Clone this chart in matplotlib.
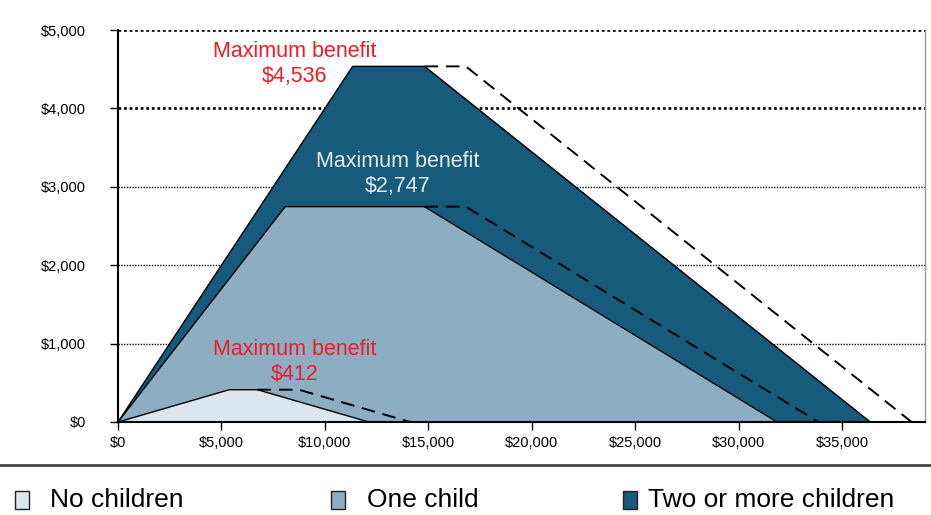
import matplotlib
matplotlib.use("Agg")
import matplotlib.pyplot as plt
from matplotlib.patches import Rectangle
from matplotlib.lines import Line2D
from matplotlib.ticker import FuncFormatter

plt.rcParams['font.family'] = ['Liberation Sans', 'DejaVu Sans']

# EITC schedules (income, credit) - single filers (filled areas)
two_kids_income = [0, 11340, 14810, 36350]
two_kids_credit = [0, 4536, 4536, 0]
one_kid_income = [0, 8080, 14810, 31850]
one_kid_credit = [0, 2747, 2747, 0]
no_kids_income = [0, 5380, 6740, 12120]
no_kids_credit = [0, 412, 412, 0]

# Married filers: phase-out extended (dashed)
two_kids_married_income = [14810, 16810, 38350]
two_kids_married_credit = [4536, 4536, 0]
one_kid_married_income = [14810, 16810, 33850]
one_kid_married_credit = [2747, 2747, 0]
no_kids_married_income = [6740, 8740, 14120, 38350]
no_kids_married_credit = [412, 412, 0, 0]

y_ticks = [0, 1000, 2000, 3000, 4000, 5000]
x_ticks = [0, 5000, 10000, 15000, 20000, 25000, 30000, 35000]

legend_labels = ["No children", "One child", "Two or more children"]

c_two = "#175A7C"
c_one = "#8DADC3"
c_none = "#DCE6EE"

fig = plt.figure(figsize=(9.31, 5.15), dpi=100)
ax = fig.add_axes([118 / 931, 1 - 422 / 515, (925 - 118) / 931, (422 - 30) / 515])
ax.set_xlim(0, 39000)
ax.set_ylim(0, 5000)

# gridlines
for yv in y_ticks[1:]:
    lw = 2.0 if yv >= 4000 else 1.0
    ax.axhline(yv, color="#111111", lw=lw, ls=(0, (1, 1)), zorder=0.5)

# filled schedules
ax.fill_between(two_kids_income, two_kids_credit, color=c_two, zorder=1)
ax.plot(two_kids_income, two_kids_credit, color="black", lw=1.0, zorder=2)
ax.fill_between(one_kid_income, one_kid_credit, color=c_one, zorder=3)
ax.plot(one_kid_income, one_kid_credit, color="black", lw=1.0, zorder=4)
ax.fill_between(no_kids_income, no_kids_credit, color=c_none, zorder=5)
ax.plot(no_kids_income, no_kids_credit, color="black", lw=1.0, zorder=6)

# married extensions
dash = (0, (7, 4))
for xs, ys in [(two_kids_married_income, two_kids_married_credit),
               (one_kid_married_income, one_kid_married_credit),
               (no_kids_married_income, no_kids_married_credit)]:
    ax.plot(xs, ys, color="black", lw=1.4, ls=dash, zorder=7)

# annotations
ax.text(8550, 4570, "Maximum benefit\n$4,536", color="#EE1C25", fontsize=15.5,
        ha="center", va="center", linespacing=1.25, zorder=8)
ax.text(13500, 3165, "Maximum benefit\n$2,747", color="#E4ECF2", fontsize=15.5,
        ha="center", va="center", linespacing=1.25, zorder=8)
ax.text(8550, 770, "Maximum benefit\n$412", color="#EE1C25", fontsize=15.5,
        ha="center", va="center", linespacing=1.25, zorder=8)

# axes styling
ax.set_yticks(y_ticks)
ax.set_xticks(x_ticks)
money = FuncFormatter(lambda v, p: f"${int(v):,}")
ax.yaxis.set_major_formatter(money)
ax.xaxis.set_major_formatter(money)
ax.tick_params(axis="y", length=6, width=1, pad=17, labelsize=10.5)
ax.tick_params(axis="x", length=6, width=1, pad=4, labelsize=10.5)
ax.spines["left"].set_color("black")
ax.spines["left"].set_linewidth(1.5)
ax.spines["bottom"].set_color("black")
ax.spines["bottom"].set_linewidth(1.5)
ax.spines["right"].set_color("#999999")
ax.spines["right"].set_linewidth(1.0)
ax.spines["top"].set_visible(False)
for sp in ax.spines.values():
    sp.set_zorder(9)

# separator line above legend
fig.add_artist(Line2D([0, 1], [1 - 465 / 515, 1 - 465 / 515], color="#444444", lw=2,
                      transform=fig.transFigure))

# legend
legend_colors = [c_none, c_one, c_two]
patch_x = [15, 331, 623]
text_x = [50, 367, 648]
for lab, col, px, tx in zip(legend_labels, legend_colors, patch_x, text_x):
    fig.add_artist(Rectangle((px / 931, 1 - 509 / 515), 14 / 931, 18 / 515,
                             facecolor=col, edgecolor="#222222", lw=1.0,
                             transform=fig.transFigure))
    fig.text(tx / 931, 1 - 500 / 515, lab, fontsize=19, ha="left", va="center",
             color="black")

fig.savefig("out.png", dpi=100)
